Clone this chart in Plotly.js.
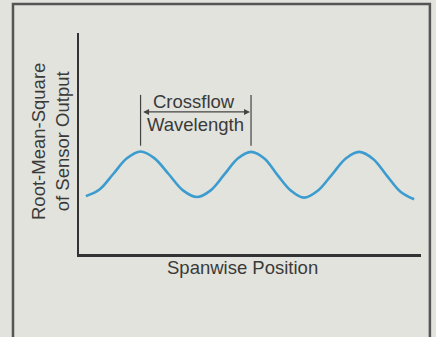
<!DOCTYPE html>
<html>
<head>
<meta charset="utf-8">
<script src="https://cdn.plot.ly/plotly-3.0.1.min.js"></script>
<style>html,body{margin:0;padding:0;background:#e2e3dc;}#chart{width:436px;height:337px;}</style>
</head>
<body>
<div id="chart"></div>
<script>
// Spanwise position (arbitrary units) and RMS sensor output (arbitrary units)
const spanwisePosition = [0.2, 0.6, 1.0, 1.4, 1.8, 2.2, 2.62, 3.04, 3.45, 3.85, 4.25, 4.65, 5.03, 5.42, 5.8, 6.2, 6.58, 6.98, 7.39, 7.8, 8.19, 8.6, 9.0, 9.4, 9.8];
const rmsOutput        = [2.62, 2.92, 3.62, 4.33, 4.64, 4.34, 3.62, 2.88, 2.58, 2.88, 3.6, 4.33, 4.62, 4.32, 3.58, 2.86, 2.55, 2.86, 3.58, 4.32, 4.62, 4.3, 3.55, 2.82, 2.48];
const xTitle = "Spanwise Position";
const yTitleLines = ["Root-Mean-Square", "of Sensor Output"];
const bracketLabel = ["Crossflow", "Wavelength"];
// indices of the two peaks spanned by the wavelength bracket
const peakA = 4, peakB = 12;

const FONT = "Liberation Sans, Arial, Helvetica, sans-serif";
const TXT = "#3a3a3a";
const FS = 18.5;
const xA = spanwisePosition[peakA], xB = spanwisePosition[peakB];

const trace = {
  x: spanwisePosition, y: rmsOutput, type: "scatter", mode: "lines",
  line: {color: "#3d9ccf", width: 2.6, shape: "spline", smoothing: 1},
  hoverinfo: "skip"
};

const layout = {
  width: 436, height: 337,
  margin: {l: 79, r: 15, t: 33, b: 83},
  paper_bgcolor: "#e2e3dc", plot_bgcolor: "#e2e3dc",
  showlegend: false,
  font: {family: FONT, color: TXT},
  xaxis: {range: [0, 10], showgrid: false, zeroline: false, showticklabels: false, ticks: "",
          showline: true, linecolor: "#333", linewidth: 2.5, fixedrange: true},
  yaxis: {range: [0, 10], showgrid: false, zeroline: false, showticklabels: false, ticks: "",
          showline: true, linecolor: "#333", linewidth: 2.5, fixedrange: true},
  shapes: [
    {type: "rect", xref: "paper", yref: "paper", x0: -0.193, x1: 1.026, y0: -0.45, y1: 1.131,
     line: {color: "#555", width: 2.5}, layer: "below"},
    {type: "line", xref: "x", yref: "y", x0: xA, x1: xA, y0: 4.9, y1: 7.2, line: {color: "#444", width: 1.2}},
    {type: "line", xref: "x", yref: "y", x0: xB, x1: xB, y0: 4.9, y1: 7.2, line: {color: "#444", width: 1.2}}
  ],
  annotations: [
    {xref: "x", yref: "y", axref: "x", ayref: "y", x: xB - 0.03, y: 6.43, ax: xA + 0.03, ay: 6.43,
     text: "", showarrow: true, arrowhead: 2, arrowside: "end+start", arrowsize: 1, arrowwidth: 1.2, arrowcolor: "#444"},
    {xref: "x", yref: "y", x: 3.35, y: 6.9, text: bracketLabel[0], showarrow: false,
     xanchor: "center", yanchor: "middle", font: {size: FS, color: TXT, family: FONT}},
    {xref: "x", yref: "y", x: 3.4, y: 5.85, text: bracketLabel[1], showarrow: false,
     xanchor: "center", yanchor: "middle", font: {size: FS, color: TXT, family: FONT}},
    {xref: "paper", yref: "paper", x: 0.479, y: -0.063, text: xTitle, showarrow: false,
     xanchor: "center", yanchor: "middle", font: {size: FS, color: TXT, family: FONT}},
    {xref: "paper", yref: "paper", x: -0.085, y: 0.511, text: yTitleLines.join("<br>"), showarrow: false,
     xanchor: "center", yanchor: "middle", textangle: -90, font: {size: FS, color: TXT, family: FONT}}
  ]
};

Plotly.newPlot("chart", [trace], layout, {staticPlot: true, displayModeBar: false});
</script>
</body>
</html>
